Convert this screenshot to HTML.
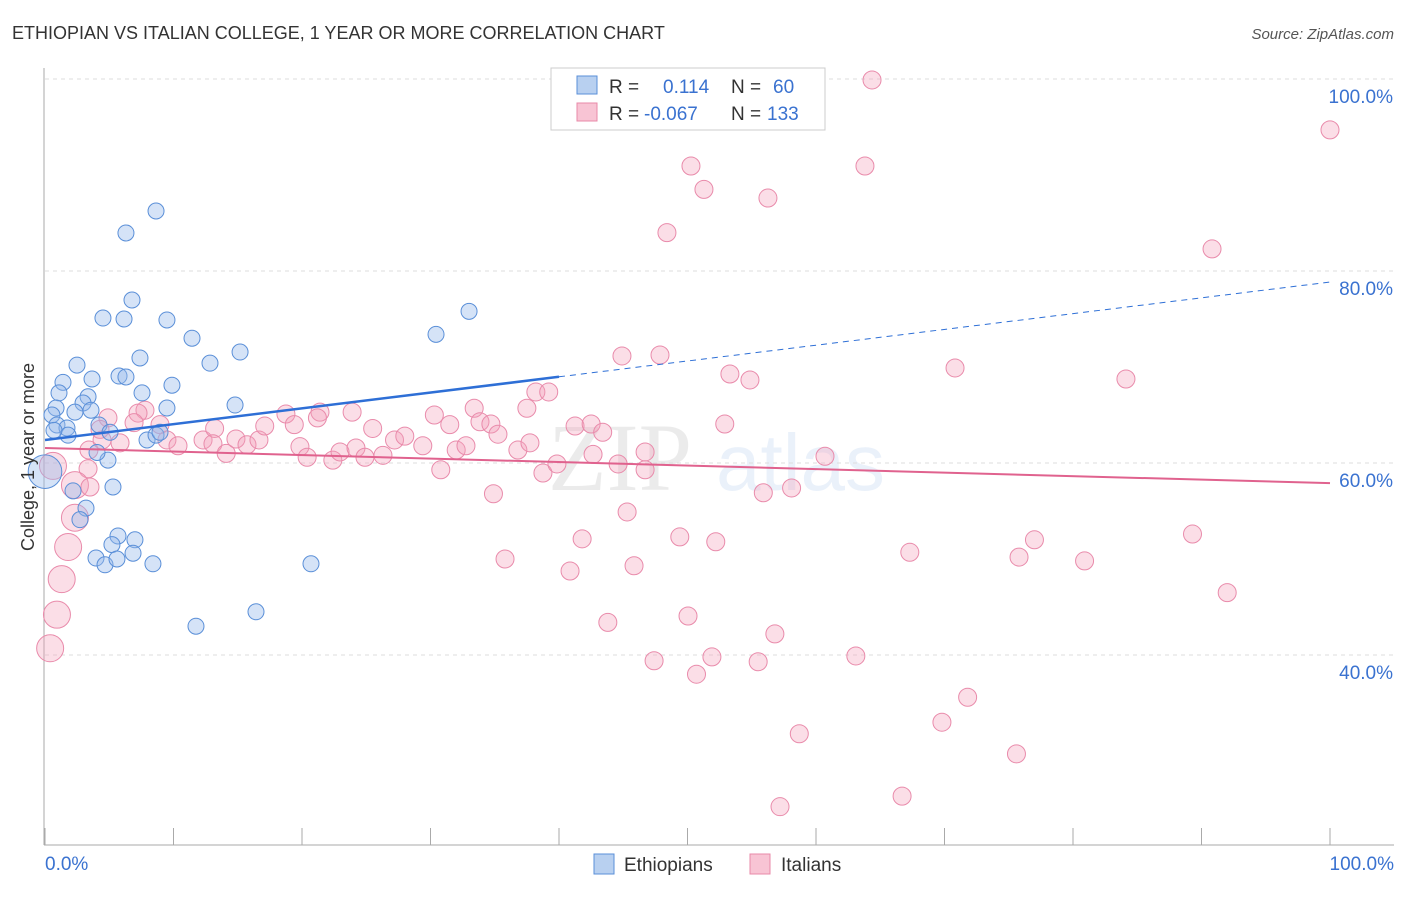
<!DOCTYPE html>
<html><head><meta charset="utf-8"><style>
body{margin:0;background:#fff;width:1406px;height:892px;overflow:hidden;font-family:"Liberation Sans",sans-serif}
</style></head><body>
<svg id="chart" width="1406" height="892" xmlns="http://www.w3.org/2000/svg">
<text x="12" y="39" font-size="18" fill="#333">ETHIOPIAN VS ITALIAN COLLEGE, 1 YEAR OR MORE CORRELATION CHART</text>
<text x="1394" y="39" font-size="15" fill="#555" text-anchor="end" font-style="italic">Source: ZipAtlas.com</text>
<g opacity="0.12">
<text x="548" y="490" font-size="96" font-family="Liberation Serif" fill="#666">ZIP</text>
<text x="716" y="490" font-size="80" fill="#5b8fd8">atlas</text>
</g>
<g id="grid"></g>
<g id="axes"></g>
<g id="pts"></g>
<g id="lines"></g>
<text transform="translate(34,457) rotate(-90)" font-size="18" fill="#333" text-anchor="middle">College, 1 year or more</text>
<g>
<rect x="551" y="68" width="274" height="62" fill="#fff" stroke="#ccc"/>
<rect x="577" y="76" width="20" height="18" fill="#b8d0f0" stroke="#5a8fd8"/>
<rect x="577" y="103" width="20" height="18" fill="#f8c4d4" stroke="#e88aa8"/>
<text x="609" y="93" font-size="19" fill="#333">R =</text>
<text x="663" y="93" font-size="19" fill="#3a72d0">0.114</text>
<text x="731" y="93" font-size="19" fill="#333">N =</text>
<text x="773" y="93" font-size="19" fill="#3a72d0">60</text>
<text x="609" y="120" font-size="19" fill="#333">R =</text>
<text x="644" y="120" font-size="19" fill="#3a72d0">-0.067</text>
<text x="731" y="120" font-size="19" fill="#333">N =</text>
<text x="767" y="120" font-size="19" fill="#3a72d0">133</text>
</g>
<g>
<rect x="594" y="854" width="20" height="20" fill="#b8d0f0" stroke="#5a8fd8"/>
<text x="624" y="871" font-size="19" fill="#333">Ethiopians</text>
<rect x="750" y="854" width="20" height="20" fill="#f8c4d4" stroke="#e88aa8"/>
<text x="781" y="871" font-size="19" fill="#333">Italians</text>
</g>
</svg>
<script>
const yTicks=[40,60,80,100];
const yTickLabels=["40.0%","60.0%","80.0%","100.0%"];
const xTicks=[0,10,20,30,40,50,60,70,80,90,100];
const ethX=[8.64,6.30,4.51,6.15,6.77,9.49,11.44,12.84,15.18,7.39,2.49,1.40,3.66,5.76,6.30,7.55,9.88,14.79,9.49,3.35,1.09,0.86,2.96,3.58,2.33,0.54,0.93,1.71,1.79,4.20,5.06,7.94,8.64,4.90,4.05,0,2.18,5.29,3.19,2.72,5.68,5.21,7.0,3.97,4.67,5.60,6.85,8.40,11.75,16.42,20.7,30.43,33.0,0.70,8.95];
const ethY=[86.25,83.96,75.1,75.0,76.98,74.9,73.0,70.4,71.56,70.94,70.2,68.4,68.75,69.06,68.96,67.3,68.1,66.04,65.73,66.9,67.3,65.73,66.25,65.5,65.3,65.0,63.96,63.65,62.9,63.96,63.2,62.4,62.9,60.3,61.1,59.1,57.1,57.5,55.3,54.1,52.4,51.5,52.0,50.1,49.4,50.0,50.6,49.5,43.0,44.5,49.5,73.4,75.8,63.4,63.2];
const ethSize=[1,1,1,1,1,1,1,1,1,1,1,1,1,1,1,1,1,1,1,1,1,1,1,1,1,1,1,1,1,1,1,1,1,1,1,4.5,1,1,1,1,1,1,1,1,1,1,1,1,1,1,1,1,1,1,1];
const itaX=[64.36,100,50.27,63.81,51.28,56.26,48.4,90.82,44.9,47.86,53.3,54.86,70.82,84.12,38.2,39.2,33.4,37.5,30.3,23.9,21.4,18.75,21.2,7.78,7.24,4.9,6.93,8.95,4.28,5.84,9.49,10.35,12.3,13.2,13.07,14.1,14.86,15.72,16.65,17.1,19.4,19.84,20.4,22.4,22.96,24.2,24.9,25.5,26.3,27.2,28.0,29.4,30.8,31.5,32.0,32.76,33.85,34.7,35.25,36.8,37.74,38.75,39.84,41.25,42.5,42.65,43.4,44.6,46.7,46.7,45.3,52.9,55.9,58.1,60.7,34.9,35.8,40.86,41.8,45.84,49.4,52.2,50.04,43.8,47.4,50.7,51.9,55.5,56.8,58.7,57.2,66.7,63.1,67.3,75.8,77.0,80.9,89.3,92.0,71.8,69.8,75.6,0.62,3.35,2.33,3.5,2.33,1.8,1.3,0.93,0.4,3.42,4.44];
const itaY=[99.9,94.7,90.94,90.94,88.5,87.6,84.0,82.3,71.15,71.25,69.27,68.65,69.9,68.75,67.4,67.4,65.7,65.7,65.0,65.3,65.3,65.1,64.7,65.5,65.2,64.7,64.2,64.0,63.5,62.1,62.4,61.8,62.4,63.6,62.0,61.0,62.5,61.9,62.4,63.85,64.0,61.7,60.6,60.3,61.15,61.56,60.6,63.6,60.8,62.4,62.8,61.8,59.3,64.0,61.35,61.8,64.3,64.06,63.0,61.35,62.1,58.96,59.9,63.85,64.06,60.9,63.2,59.9,61.15,59.3,54.9,64.06,56.9,57.4,60.7,56.8,50.0,48.75,52.1,49.3,52.3,51.8,44.06,43.4,39.4,38.0,39.8,39.3,42.2,31.8,24.2,25.3,39.9,50.7,50.2,52.0,49.8,52.6,46.5,35.6,33.0,29.7,59.7,59.4,57.7,57.5,54.3,51.25,47.9,44.2,40.7,61.35,62.4];
const itaSize=itaX.map((x)=>x<3?1.5:1);
const trendEth=[62.4,78.85];
const trendIta=[61.56,57.9];
const ethSolidEnd=40;

const NS="http://www.w3.org/2000/svg";
const X0=45,X1=1330,YT=79,PX=9.6;
const sx=v=>X0+(X1-X0)*v/100;
const sy=v=>YT+(100-v)*PX;
function mk(tag,attrs,parent){const e=document.createElementNS(NS,tag);for(const k in attrs)e.setAttribute(k,attrs[k]);parent.appendChild(e);return e;}
const grid=document.getElementById('grid'),axes=document.getElementById('axes');
yTicks.forEach((t,i)=>{
  const l=mk('line',{x1:X0,x2:1394,y1:sy(t),y2:sy(t),stroke:'#ddd','stroke-dasharray':'4,4'},grid);
  
  
  const tx=mk('text',{x:1393,y:sy(t)+24,'font-size':19,fill:'#3a72d0','text-anchor':'end'},axes);
  tx.textContent=yTickLabels[i];
  
  
});
const al=mk('line',{x1:44,x2:44,y1:68,y2:845,stroke:'#aaa'},axes);


const bl=mk('line',{x1:44,x2:1394,y1:845,y2:845,stroke:'#aaa'},axes);


xTicks.forEach(t=>{
  const l=mk('line',{x1:sx(t),x2:sx(t),y1:828,y2:845,stroke:'#aaa'},axes);
  
  
});
const xl0=mk('text',{x:45,y:870,'font-size':19,fill:'#3a72d0'},axes);xl0.textContent='0.0%';


const xl1=mk('text',{x:1394,y:870,'font-size':19,fill:'#3a72d0','text-anchor':'end'},axes);xl1.textContent='100.0%';


const pts=document.getElementById('pts');
itaX.forEach((x,i)=>{
  const c=mk('circle',{cx:sx(x),cy:sy(itaY[i]),r:9*itaSize[i],fill:'rgba(244,160,185,0.35)',stroke:'#e98bab','stroke-width':1},pts);
  
  
});
ethX.forEach((x,i)=>{
  const c=mk('circle',{cx:sx(x),cy:sy(ethY[i]),r:8*(ethSize[i]>1?2.1:1),fill:'rgba(150,185,235,0.4)',stroke:'#5a8fd8','stroke-width':1},pts);
  
  
});
const lines=document.getElementById('lines');
const ey=x=>trendEth[0]+(trendEth[1]-trendEth[0])*x/100;
const l1=mk('line',{x1:sx(0),y1:sy(ey(0)),x2:sx(ethSolidEnd),y2:sy(ey(ethSolidEnd)),stroke:'#2e6fd6','stroke-width':2.5},lines);


const l2=mk('line',{x1:sx(ethSolidEnd),y1:sy(ey(ethSolidEnd)),x2:sx(100),y2:sy(ey(100)),stroke:'#2e6fd6','stroke-width':1,'stroke-dasharray':'6,5'},lines);


const l3=mk('line',{x1:sx(0),y1:sy(trendIta[0]),x2:sx(100),y2:sy(trendIta[1]),stroke:'#e0628e','stroke-width':2},lines);


</script>
</body></html>
